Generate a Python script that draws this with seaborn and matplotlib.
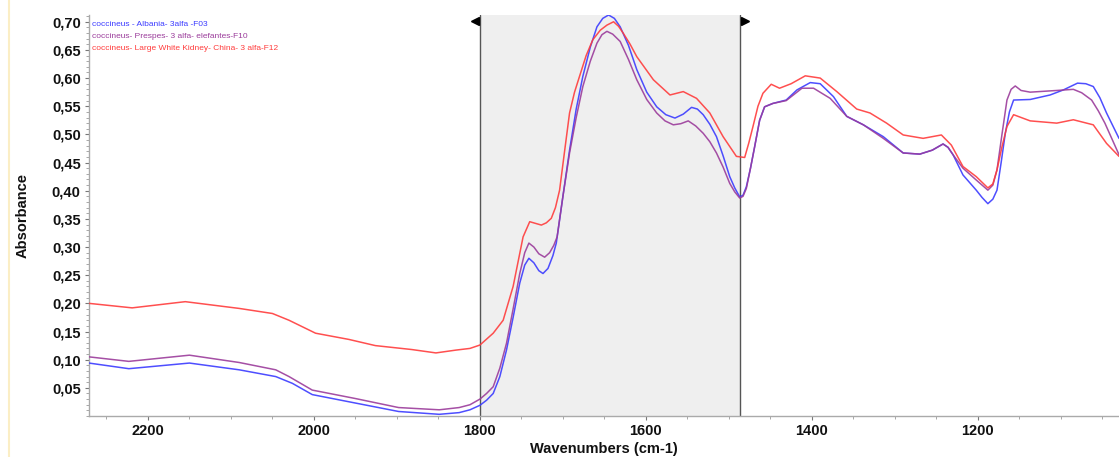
import numpy as np
import pandas as pd
import matplotlib
matplotlib.use("Agg")
import matplotlib.pyplot as plt
import matplotlib.transforms as mtransforms
from matplotlib.lines import Line2D
from matplotlib.ticker import MultipleLocator, FuncFormatter
import seaborn as sns

# ---------------- data ----------------
series_names = [
    "coccineus - Albania- 3alfa -F03",
    "coccineus- Prespes- 3 alfa- elefantes-F10",
    "coccineus- Large White Kidney- China- 3 alfa-F12",
]
series_colors = ["#3b3bff", "#9b3c9b", "#ff3c3c"]

blue_wn = [2271, 2223, 2150, 2090, 2046, 2026, 2002, 1950, 1898, 1849, 1825, 1812, 1800,
           1792, 1784, 1776, 1768, 1760, 1752, 1746, 1741, 1735, 1729, 1724, 1718, 1712, 1708,
           1700, 1692, 1684, 1676, 1667, 1659, 1652, 1645, 1638, 1631, 1621, 1611, 1599, 1587,
           1576, 1565, 1555, 1545, 1538, 1531, 1523, 1515, 1507, 1499, 1493, 1487, 1483, 1479,
           1474, 1469, 1463, 1457, 1447, 1431, 1418, 1402,
           1390, 1374, 1358, 1338, 1314, 1290, 1270, 1255, 1242, 1236, 1230, 1218, 1202, 1195,
           1188, 1182, 1177, 1172, 1167, 1162, 1157, 1137, 1113, 1097, 1080, 1070, 1061, 1053,
           1045, 1030]
blue_ab = [0.094, 0.084, 0.094, 0.082, 0.070, 0.058, 0.038, 0.023, 0.008, 0.003, 0.006, 0.011, 0.019,
           0.028, 0.040, 0.070, 0.117, 0.175, 0.236, 0.268, 0.280, 0.272, 0.258, 0.253, 0.262, 0.285, 0.307,
           0.390, 0.472, 0.545, 0.603, 0.655, 0.691, 0.706, 0.712, 0.706, 0.691, 0.658, 0.615, 0.575, 0.549,
           0.535, 0.529, 0.536, 0.548, 0.545, 0.535, 0.518, 0.496, 0.462, 0.425, 0.405, 0.389, 0.392, 0.407,
           0.440, 0.478, 0.525, 0.549, 0.555, 0.561, 0.579, 0.592,
           0.590, 0.567, 0.532, 0.517, 0.496, 0.467, 0.465, 0.472, 0.483, 0.477, 0.464, 0.428, 0.401, 0.388,
           0.377, 0.385, 0.401, 0.450, 0.502, 0.540, 0.561, 0.562, 0.570, 0.579, 0.591, 0.590, 0.585, 0.565,
           0.538, 0.493]

purple_wn = [2271, 2223, 2150, 2090, 2046, 2030, 2002, 1950, 1898, 1849, 1825, 1812, 1800,
             1792, 1784, 1776, 1768, 1760, 1752, 1746, 1741, 1735, 1729, 1722, 1716, 1711, 1707,
             1700, 1692, 1684, 1676, 1667, 1659, 1653, 1647, 1640, 1631, 1621, 1611, 1599, 1587,
             1577, 1567, 1558, 1549, 1540, 1531, 1523, 1515, 1507, 1499, 1493, 1487, 1483, 1479,
             1474, 1469, 1463, 1457, 1447, 1431, 1412, 1398,
             1378, 1358, 1338, 1314, 1290, 1270, 1255, 1242, 1236, 1230, 1218, 1202, 1188, 1182,
             1177, 1171, 1165, 1160, 1155, 1148, 1137, 1105, 1085, 1075, 1063, 1055, 1047, 1030]
purple_ab = [0.105, 0.097, 0.108, 0.095, 0.082, 0.070, 0.046, 0.031, 0.015, 0.011, 0.015, 0.020, 0.030,
             0.040, 0.052, 0.085, 0.129, 0.190, 0.253, 0.290, 0.307, 0.300, 0.288, 0.282, 0.290, 0.303, 0.318,
             0.390, 0.467, 0.530, 0.585, 0.630, 0.662, 0.677, 0.683, 0.678, 0.665, 0.633, 0.597, 0.562, 0.538,
             0.524, 0.517, 0.519, 0.524, 0.515, 0.502, 0.487, 0.467, 0.442, 0.413, 0.398, 0.387, 0.390, 0.404,
             0.440, 0.478, 0.525, 0.549, 0.555, 0.560, 0.582, 0.582,
             0.564, 0.532, 0.517, 0.493, 0.467, 0.465, 0.472, 0.483, 0.477, 0.464, 0.440, 0.419, 0.401, 0.410,
             0.437, 0.500, 0.561, 0.580, 0.586, 0.578, 0.575, 0.578, 0.580, 0.574, 0.561, 0.542, 0.520, 0.464]

red_wn = [2271, 2219, 2155, 2090, 2050, 2030, 1998, 1958, 1926, 1882, 1853, 1829, 1812, 1800,
          1784, 1772, 1760, 1748, 1740, 1733, 1726, 1720, 1714, 1709, 1704, 1698, 1692, 1686, 1680,
          1672, 1664, 1655, 1647, 1639, 1633, 1627, 1619,
          1611, 1591, 1571, 1555, 1539, 1523, 1507, 1491, 1481, 1476, 1471, 1465, 1459, 1449, 1439, 1425,
          1408, 1390, 1370, 1346, 1330, 1310, 1290, 1266, 1244, 1232, 1218, 1202, 1188, 1182, 1177,
          1171, 1165, 1157, 1137, 1105, 1085, 1061, 1045, 1030]
red_ab = [0.200, 0.192, 0.203, 0.191, 0.182, 0.170, 0.147, 0.136, 0.125, 0.118, 0.112, 0.117, 0.120, 0.126,
          0.147, 0.170, 0.230, 0.318, 0.345, 0.342, 0.339, 0.343, 0.351, 0.370, 0.401, 0.470, 0.538, 0.575, 0.603,
          0.640, 0.668, 0.685, 0.694, 0.700, 0.692, 0.679, 0.660,
          0.638, 0.597, 0.570, 0.576, 0.564, 0.538, 0.496, 0.461, 0.459, 0.485, 0.514, 0.550, 0.573, 0.589, 0.582, 0.590,
          0.604, 0.600, 0.576, 0.545, 0.538, 0.520, 0.499, 0.493, 0.499, 0.481, 0.443, 0.425, 0.405, 0.412, 0.437,
          0.478, 0.514, 0.535, 0.524, 0.520, 0.526, 0.517, 0.484, 0.461]

region_start = 1800
region_end = 1487
x_ticks = [2200, 2000, 1800, 1600, 1400, 1200]
y_ticks = [0.05, 0.10, 0.15, 0.20, 0.25, 0.30, 0.35, 0.40, 0.45, 0.50, 0.55, 0.60, 0.65, 0.70]
x_label = "Wavenumbers (cm-1)"
y_label = "Absorbance"

# ---------------- plot ----------------
sns.set_theme(style="white")
plt.rcParams["font.family"] = ["Liberation Sans", "DejaVu Sans"]

fig = plt.figure(figsize=(11.19, 4.57), dpi=100)
ax = fig.add_axes([89 / 1119, 41 / 457, 1 - 89 / 1119, (416 - 15) / 457])

# shaded region
ax.axvspan(region_end, region_start, color="#efefef", zorder=0, lw=0)
for xv in (region_start, region_end):
    ax.axvline(xv, color="#555555", lw=1.0, zorder=1)

frames = [
    pd.DataFrame({"wn": blue_wn, "ab": blue_ab}),
    pd.DataFrame({"wn": purple_wn, "ab": purple_ab}),
    pd.DataFrame({"wn": red_wn, "ab": red_ab}),
]
for df, col in zip(frames, series_colors):
    sns.lineplot(data=df, x="wn", y="ab", ax=ax, color=col, lw=1.1, sort=False,
                 estimator=None, alpha=0.9, zorder=3)

ax.set_xlim(2271, 1030)
ax.set_ylim(0.0, 0.712)

# triangles at region edges (top)
tr_left = mtransforms.offset_copy(ax.get_xaxis_transform(), fig=fig, x=-4.5, y=0, units="dots")
tr_right = mtransforms.offset_copy(ax.get_xaxis_transform(), fig=fig, x=5, y=0, units="dots")
ax.plot([region_start], [0.985], marker="<", color="black", ms=6, transform=tr_left, clip_on=False)
ax.plot([region_end], [0.985], marker=">", color="black", ms=6, transform=tr_right, clip_on=False)

# ticks
ax.set_xticks(x_ticks)
ax.xaxis.set_minor_locator(MultipleLocator(50))
ax.set_yticks(y_ticks)
ax.yaxis.set_minor_locator(MultipleLocator(0.01))
ax.yaxis.set_major_formatter(FuncFormatter(lambda v, p: f"{v:.2f}".replace(".", ",")))
ax.tick_params(axis="both", which="major", direction="out", length=3, width=0.8,
               color="#777777", labelsize=10.5, pad=3)
ax.tick_params(axis="both", which="minor", direction="out", length=2, width=0.6, color="#999999")
ax.tick_params(axis="x", which="both", bottom=True)
ax.tick_params(axis="y", which="both", left=True)
for lab in ax.get_xticklabels() + ax.get_yticklabels():
    lab.set_fontweight("bold")
    lab.set_color("#111111")

for side in ("top", "right"):
    ax.spines[side].set_visible(False)
for side in ("left", "bottom"):
    ax.spines[side].set_color("#aaaaaa")
    ax.spines[side].set_linewidth(1.0)

ax.set_xlabel(x_label, fontsize=10.5, fontweight="bold", color="#111111", labelpad=3)
ax.set_ylabel(y_label, fontsize=10.5, fontweight="bold", color="#111111", labelpad=16)

# colored legend texts
for i, (name, col) in enumerate(zip(series_names, series_colors)):
    ax.text(0.003, 0.985 - i * 0.03, name, transform=ax.transAxes, color=col,
            fontsize=6, va="top", ha="left")

# faint yellow border line on the left
fig.add_artist(Line2D([8.5 / 1119, 8.5 / 1119], [0, 1], transform=fig.transFigure,
                      color="#fbeec5", lw=1.5))

fig.savefig("out.png", dpi=100)
